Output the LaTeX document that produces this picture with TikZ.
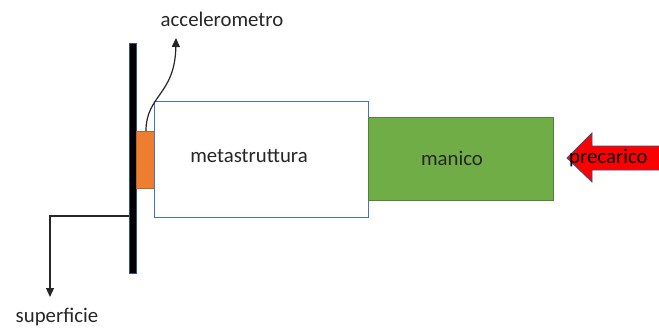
\documentclass[tikz,border=0pt]{standalone}
\usepackage{fontspec}
\setmainfont{Carlito}
\usetikzlibrary{arrows.meta}
\definecolor{wordblue}{HTML}{4472C4}
\definecolor{darkblue}{HTML}{2F528F}
\definecolor{wordorange}{HTML}{ED7D31}
\definecolor{wordgreen}{HTML}{70AD47}
\definecolor{linegray}{HTML}{262626}
\begin{document}
\begin{tikzpicture}[
    x=1pt, y=-1pt,
    every node/.style={font=\fontsize{20.8}{25}\selectfont, text=linegray, inner sep=0pt},
    boxstyle/.style={rectangle, anchor=north west, line width=0.8pt},
    arrowstyle/.style={-{Triangle[width=8pt,length=9pt]}, line width=1.2pt, draw=linegray}
]
    \useasboundingbox (0,0) rectangle (659,327);

    % parete, sensore, metastruttura, manico
    \node[boxstyle, draw=darkblue, fill=black, minimum width=7pt, minimum height=230pt] (plate) at (129,43) {};
    \node[boxstyle, draw=wordorange!80!black, fill=wordorange, minimum width=18pt, minimum height=57pt] (sensor) at (136,131) {};
    \node[boxstyle, draw=wordblue, fill=white, minimum width=214pt, minimum height=116pt] (meta) at (154,101) {};
    \node[boxstyle, draw=wordgreen!75!black, fill=wordgreen, minimum width=185pt, minimum height=83pt] (manico) at (368,117) {};

    \node (metatext) at (249,156) {metastruttura};
    \node (manicotext) at (452,158) {manico};

    % precarico
    \draw[draw=darkblue, fill=red, line width=0.8pt] (567,158) -- (592,133) -- (592,146) -- (690,146)
        -- (690,170) -- (592,170) -- (592,182) -- cycle;
    \node[anchor=west, text=black] (prec) at (569,158) {precarico};

    % accelerometro
    \coordinate (acctip) at (176,38);
    \draw[arrowstyle] (sensor.north west) ++(10,0) .. controls (146,95) and (175,95) .. (acctip);
    \node (acc) at (222,19) {accelerometro};

    % superficie
    \coordinate (plateout) at (129,216);
    \coordinate (suptip) at (50,297);
    \draw[arrowstyle] (plateout) -| (suptip);
    \node (sup) at (57,317) {superficie};
\end{tikzpicture}
\end{document}
